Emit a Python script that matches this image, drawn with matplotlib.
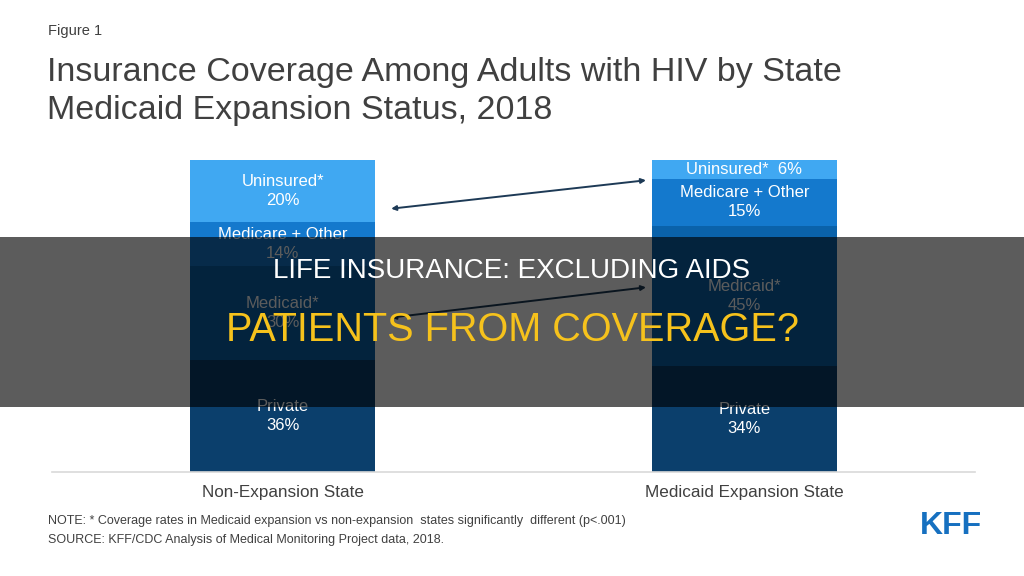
import matplotlib.pyplot as plt
from matplotlib.patches import Rectangle

plt.rcParams['font.family'] = ['Liberation Sans', 'DejaVu Sans']

states = ['Non-Expansion State', 'Medicaid Expansion State']
segments = ['Private', 'Medicaid*', 'Medicare + Other', 'Uninsured*']
values = {
    'Private': [36, 34],
    'Medicaid*': [30, 45],
    'Medicare + Other': [14, 15],
    'Uninsured*': [20, 6],
}
colors = {
    'Private': '#0b3f6c',
    'Medicaid*': '#0a62aa',
    'Medicare + Other': '#1479cd',
    'Uninsured*': '#40a8f2',
}

fig = plt.figure(figsize=(10.24, 5.76), dpi=100)
fig.patch.set_facecolor('white')

# header
fig.text(48/1024, 1-31/576, 'Figure 1', fontsize=10.5, color='#404040', va='center')
fig.text(47/1024, 1-72/576, 'Insurance Coverage Among Adults with HIV by State',
         fontsize=24.5, color='#404040', va='center')
fig.text(47/1024, 1-111/576, 'Medicaid Expansion Status, 2018',
         fontsize=24.5, color='#404040', va='center')

ax = fig.add_axes([52/1024, 1-472/576, 923/1024, 312/576])
x = [0, 1]
bottom = [0, 0]
for seg in segments:
    v = values[seg]
    ax.bar(x, v, width=0.4, bottom=bottom, color=colors[seg], edgecolor='none', zorder=2)
    for i in range(2):
        mid = bottom[i] + v[i] / 2
        if v[i] < 10:
            lbl = '%s  %d%%' % (seg, v[i])
        else:
            lbl = '%s\n%d%%' % (seg, v[i])
        ax.text(x[i], mid, lbl, ha='center', va='center', color='white',
                fontsize=12, linespacing=1.3, zorder=3)
    bottom = [bottom[i] + v[i] for i in range(2)]

ax.set_xlim(-0.5, 1.5)
ax.set_ylim(0, 100)
for s in ['top', 'right', 'left']:
    ax.spines[s].set_visible(False)
ax.spines['bottom'].set_color('#d9d9d9')
ax.spines['bottom'].set_linewidth(1.2)
ax.set_yticks([])
ax.set_xticks(x)
ax.set_xticklabels(states, fontsize=12.3, color='#404040')
ax.tick_params(axis='x', length=0, pad=9)

# comparison arrows
arrow = dict(arrowstyle='<|-|>', color='#1d3a56', lw=1.4, mutation_scale=7)
ax.annotate('', xy=(0.793, 93.6), xytext=(0.229, 84.3), arrowprops=arrow, zorder=4)
ax.annotate('', xy=(0.793, 59.3), xytext=(0.229, 49.4), arrowprops=arrow, zorder=4)

# footnotes
fig.text(48/1024, 1-521/576,
         'NOTE: * Coverage rates in Medicaid expansion vs non-expansion  states significantly  different (p<.001)',
         fontsize=9, color='#404040', va='center')
fig.text(48/1024, 1-540/576, 'SOURCE: KFF/CDC Analysis of Medical Monitoring Project data, 2018.',
         fontsize=9, color='#404040', va='center')
fig.text(951/1024, 1-526/576, 'KFF', fontsize=23, fontweight='bold', color='#1670c0',
         ha='center', va='center', fontstretch='condensed')

# dark banner with headline
fig.patches.append(Rectangle((0, 1-407/576), 1, 170/576, transform=fig.transFigure,
                             facecolor='black', alpha=0.64, zorder=10, figure=fig))
fig.text(0.5, 1-271/576, 'LIFE INSURANCE: EXCLUDING AIDS', fontsize=20, color='white',
         ha='center', va='center', zorder=11)
fig.text(0.5, 1-330/576, 'PATIENTS FROM COVERAGE?', fontsize=28.5, color='#f6c21c',
         ha='center', va='center', zorder=11)

fig.savefig('out.png', dpi=100)
